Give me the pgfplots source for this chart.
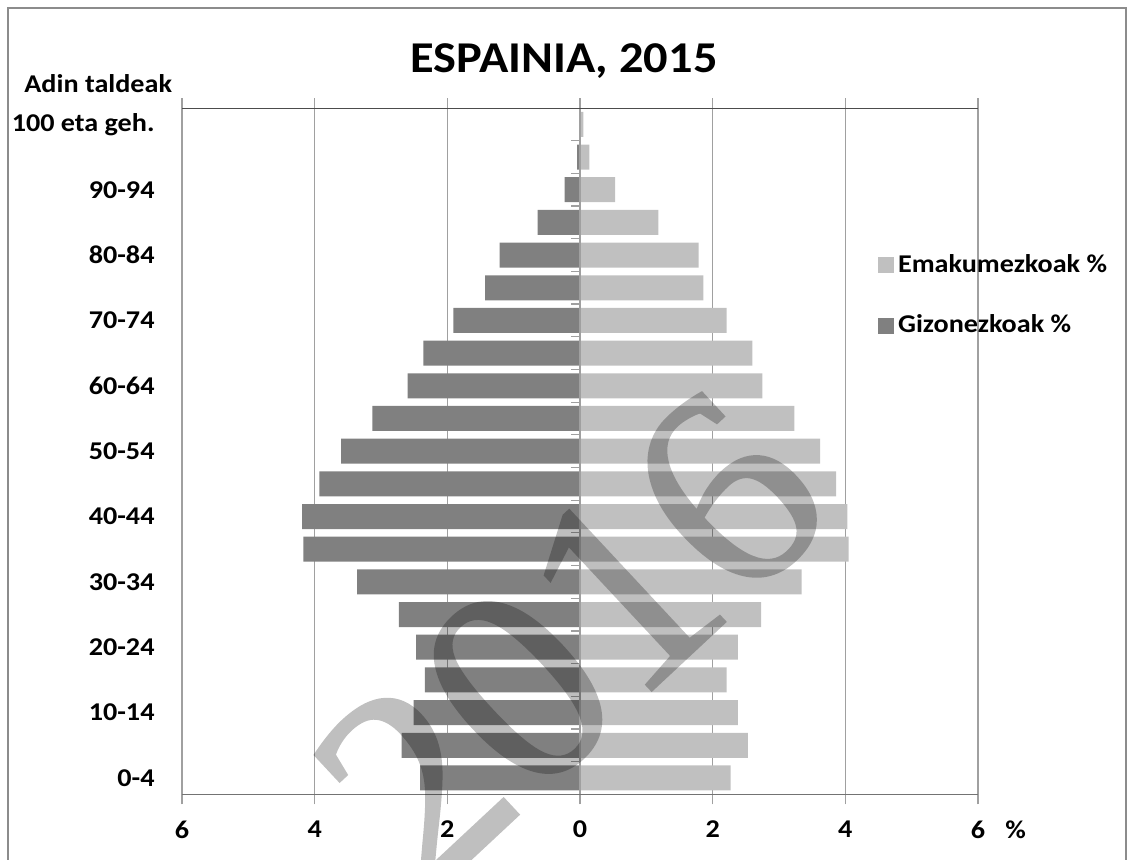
\documentclass[border=0pt]{standalone}
\usepackage{pgfplots}
\pgfplotsset{compat=1.18}
\usepackage{pgfplotstable}
\usepackage{fontspec}
\setmainfont{Carlito}[FakeStretch=1.1]
\newfontfamily\wmfont{Liberation Serif}[FakeBold=1]
\definecolor{women}{HTML}{C0C0C0}
\definecolor{men}{HTML}{808080}
\definecolor{gridc}{HTML}{A0A0A0}
\definecolor{framec}{HTML}{8C8C8C}

\pgfplotstableread{
idx men women
0 -2.41 2.27
1 -2.69 2.53
2 -2.51 2.38
3 -2.34 2.21
4 -2.47 2.38
5 -2.73 2.73
6 -3.36 3.34
7 -4.17 4.05
8 -4.19 4.03
9 -3.93 3.86
10 -3.60 3.62
11 -3.13 3.23
12 -2.60 2.75
13 -2.36 2.60
14 -1.91 2.21
15 -1.43 1.86
16 -1.21 1.79
17 -0.64 1.18
18 -0.23 0.53
19 -0.045 0.14
20 -0.01 0.05
}\pyramid

\begin{document}
\begin{tikzpicture}
\path[use as bounding box] (0,0) rectangle (565.5pt,429.5pt);
\draw[color=framec, line width=1pt] (4pt,-10pt) -- (4pt,425.5pt) -- (563pt,425.5pt) -- (563pt,-10pt);
\begin{axis}[
  at={(91pt,32.35pt)}, anchor=south west,
  scale only axis, width=398pt, height=343.15pt,
  xmin=-6, xmax=6, ymin=-0.5, ymax=20.5,
  xtick={-6,-4,-2,0,2,4,6},
  xticklabels={6,4,2,0,2,4,6},
  ytick={0,2,...,20},
  yticklabels={0-4,10-14,20-24,30-34,40-44,50-54,60-64,70-74,80-84,90-94,100 eta geh.},
  xmajorgrids, grid style={color=gridc, line width=0.75pt},
  axis line style={draw=none},
  tick label style={font=\fontsize{12.8}{14}\selectfont\bfseries, text=black},
  x tick style={color=gridc, line width=0.75pt},
  major tick length=5pt, tick align=outside,
  y tick style={draw=none},
  xticklabel style={yshift=-4.7pt},
  yticklabel style={xshift=-5.2pt},
  xbar, bar width=12.5pt, bar shift=0pt,
  legend style={draw=none, fill=none, inner sep=0pt,
    at={(axis description cs:0.874,0.7275)}, anchor=west,
    font=\fontsize{12.8}{14}\selectfont\bfseries, row sep=16pt},
  legend cell align=left,
]
\addplot[fill=women, draw=none,
  legend image code/.code={\fill[women] (0pt,-4pt) rectangle (8pt,4pt);}]
  table[x=women, y=idx] {\pyramid};
\addlegendentry{Emakumezkoak \%}
\addplot[fill=men, draw=none,
  legend image code/.code={\fill[men] (0pt,-4pt) rectangle (8pt,4pt);}]
  table[x=men, y=idx] {\pyramid};
\addlegendentry{Gizonezkoak \%}
\draw[color=gridc, line width=0.75pt] (axis cs:0,-0.5) -- (axis cs:0,20.5);
\pgfplotsinvokeforeach{-0.5,0.5,...,20.5}{
  \draw[color=gridc, line width=0.6pt] (axis cs:-0.136,#1) -- (axis cs:0,#1);
}
\draw[color=black!70, line width=1pt] (rel axis cs:0,1) -- (rel axis cs:1,1);
\draw[color=black!55, line width=0.75pt] (rel axis cs:0,0) -- (rel axis cs:1,0);
\end{axis}
\node[font=\fontsize{22}{26}\selectfont\bfseries, anchor=base, inner sep=0pt] at (282pt,393pt) {ESPAINIA, 2015};
\node[font=\fontsize{12.8}{14}\selectfont\bfseries, anchor=base west, inner sep=0pt] at (12pt,383pt) {Adin taldeak};
\node[font=\fontsize{12.8}{14}\selectfont\bfseries, anchor=base west, inner sep=0pt] at (502.5pt,10.5pt) {\%};
\begin{scope}[transparency group, opacity=0.25]
\node[rotate=43, text=black, font=\wmfont\fontsize{142}{142}\selectfont] at (285pt,110pt) {2016};
\end{scope}
\end{tikzpicture}
\end{document}
